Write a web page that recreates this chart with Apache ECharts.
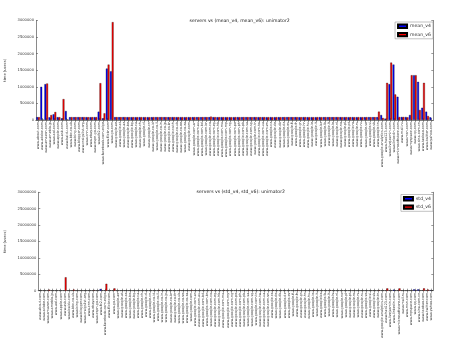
<!DOCTYPE html>
<html><head><meta charset="utf-8">
<script src="https://cdn.jsdelivr.net/npm/echarts@6/dist/echarts.min.js"></script>
<style>html,body{margin:0;padding:0;background:#fff}#c{width:468px;height:361px}</style>
</head><body><div id="c"></div>
<script>
const servers = [
"www.about.com","www.adobe.com","www.amazon.com","www.ameblo.jp","www.aol.com","www.apple.com","www.ask.com","www.baidu.com","www.bbc.co.uk","www.bing.com","www.blogger.com","www.craigslist.org","www.cnn.com","www.ebay.com","www.espn.go.com","www.fc2.com","www.facebook.com.edge","www.flickr.com","www.go.com",
"www.google.ae","www.google.at","www.google.az","www.google.be","www.google.bg","www.google.ca","www.google.ch","www.google.cl","www.google.cn","www.google.co.id","www.google.co.il","www.google.co.in","www.google.co.jp","www.google.co.kr","www.google.co.th","www.google.co.uk","www.google.co.ve","www.google.co.za","www.google.com","www.google.com.ar","www.google.com.au","www.google.com.bd","www.google.com.br","www.google.com.co","www.google.com.eg","www.google.com.hk","www.google.com.mx","www.google.com.my","www.google.com.ng","www.google.com.pe","www.google.com.ph","www.google.com.pk","www.google.com.sa","www.google.com.sg","www.google.com.tr","www.google.com.tw","www.google.com.ua","www.google.com.vn","www.google.cz","www.google.de","www.google.dk","www.google.dz","www.google.es","www.google.fi","www.google.fr","www.google.gr","www.google.hr","www.google.hu","www.google.ie","www.google.it","www.google.kz","www.google.lk","www.google.lt","www.google.lv","www.google.nl","www.google.no","www.google.pl","www.google.pt","www.google.ro","www.google.rs","www.google.ru","www.google.se","www.google.si","www.google.sk","www.google.tn",
"www.google-analytics.com","www.hao123.com","www.livejasmin.com","www.linkedin.com","www.microsoftstore.com","www.mail.ru","www.msn.com","www.myspace.com","www.qq.com","www.sina.com.cn","www.taobao.com","www.twitter.com","www.yahoo.com"
];
const meanV4 = [
85000,1000000,1080000,80000,170000,85000,50000,270000,85000,84000,86000,85000,85000,84000,86000,250000,50000,1550000,1470000,
85000,84000,86000,85000,85000,84000,86000,85000,85000,84000,86000,85000,85000,84000,86000,85000,85000,84000,86000,85000,85000,84000,86000,85000,85000,84000,86000,85000,85000,84000,86000,85000,85000,84000,86000,85000,85000,84000,86000,85000,85000,84000,86000,85000,85000,84000,86000,85000,85000,84000,86000,85000,85000,84000,86000,85000,85000,84000,86000,85000,85000,84000,86000,85000,85000,
150000,40000,1080000,1670000,700000,90000,90000,150000,1350000,1150000,370000,250000,80000
];
const meanV6 = [
85000,15000,1100000,150000,240000,85000,630000,15000,86000,85000,85000,86000,84000,85000,86000,1110000,200000,1670000,2950000,
86000,85000,86000,84000,86000,85000,86000,85000,84000,86000,85000,86000,85000,84000,86000,85000,86000,85000,84000,86000,85000,86000,85000,100000,86000,85000,86000,85000,84000,86000,85000,86000,85000,84000,86000,85000,86000,85000,84000,86000,85000,86000,85000,84000,86000,85000,86000,85000,84000,86000,85000,86000,85000,84000,86000,85000,86000,85000,84000,86000,85000,86000,85000,84000,
250000,60000,1120000,1730000,770000,90000,90000,80000,1350000,1350000,300000,1120000,120000
];
const stdV4 = [
30000,30000,40000,20000,30000,20000,30000,40000,30000,20000,30000,20000,30000,20000,30000,500000,30000,40000,40000,
20000,30000,20000,30000,20000,30000,20000,30000,20000,30000,20000,30000,20000,30000,20000,30000,20000,30000,20000,30000,20000,30000,20000,30000,20000,30000,20000,30000,20000,30000,20000,30000,20000,30000,20000,30000,20000,30000,20000,30000,20000,30000,20000,30000,20000,30000,20000,30000,20000,30000,20000,30000,20000,30000,20000,30000,20000,30000,20000,30000,20000,30000,20000,30000,20000,
60000,40000,60000,300000,60000,40000,40000,60000,400000,400000,100000,60000,150000
];
const stdV6 = [
40000,30000,300000,40000,50000,30000,4080000,40000,300000,40000,40000,40000,40000,200000,40000,60000,2100000,60000,700000,
40000,40000,40000,40000,40000,40000,40000,40000,40000,40000,150000,40000,40000,40000,40000,150000,40000,40000,150000,40000,40000,40000,40000,150000,40000,40000,150000,40000,40000,40000,40000,40000,150000,40000,40000,40000,40000,40000,150000,40000,40000,40000,40000,40000,150000,40000,40000,40000,150000,40000,40000,40000,150000,40000,40000,40000,40000,40000,40000,40000,40000,40000,40000,40000,150000,
60000,700000,60000,60000,700000,40000,40000,40000,60000,60000,700000,300000,60000
];
const meanTicks = {min:0, max:3000000, interval:500000};
const stdTicks = {min:0, max:30000000, interval:5000000};

const FONT = 'DejaVu Sans';
const frame = {show:true, lineStyle:{color:'#8a8a8a', width:1}};
function xa(grid, pos, labels){
  return {type:'category', gridIndex:grid, position:pos, data:servers,
    axisLine:frame,
    axisTick:{show:true, inside:true, length:2, alignWithLabel:true, interval:0, lineStyle:{color:'#555', width:0.6}},
    axisLabel: labels ? {show:true, interval:0, rotate:90, fontSize:3.4, fontFamily:FONT, color:'#333', margin:2} : {show:false},
    splitLine:{show:false}};
}
function ya(grid, pos, t, labels){
  return {type:'value', gridIndex:grid, position:pos, min:t.min, max:t.max, interval:t.interval,
    axisLine:frame,
    axisTick:{show:true, inside:true, length:2, lineStyle:{color:'#555', width:0.6}},
    axisLabel: labels ? {show:true, fontSize:3.7, fontFamily:FONT, color:'#333', margin:2, formatter:(v)=>String(v)} : {show:false},
    name: labels ? 'time (usecs)' : '', nameLocation:'middle', nameGap: 18,
    nameTextStyle:{fontSize:3.7, fontFamily:FONT, color:'#333'},
    splitLine:{show:false}};
}
function bar(name, data, color, xi, yi){
  return {type:'bar', name:name, data:data, xAxisIndex:xi, yAxisIndex:yi,
    barGap:'0%', barCategoryGap:'12%',
    itemStyle:{color:color, borderColor:'#000', borderWidth:0.3}, animation:false};
}
const chart = echarts.init(document.getElementById('c'), null, {renderer:'canvas'});
chart.setOption({
  animation:false,
  backgroundColor:'#fff',
  title:[
    {text:'servers vs (mean_v4, mean_v6): unimator2', left:234.6, textAlign:'center', top:13.5,
     textStyle:{fontSize:4.6, fontWeight:'normal', fontFamily:FONT, color:'#222'}},
    {text:'servers vs (std_v4, std_v6): unimator2', left:235.8, textAlign:'center', top:184.5,
     textStyle:{fontSize:4.6, fontWeight:'normal', fontFamily:FONT, color:'#222'}}
  ],
  legend:[
    {data:['mean_v4','mean_v6'], orient:'vertical', right:35, top:22, itemWidth:9, itemHeight:3.4, itemGap:3,
     padding:[1.5,2,1.5,2], borderColor:'#999', borderWidth:0.6, backgroundColor:'#fff',
     textStyle:{fontSize:4.6, fontFamily:FONT, color:'#333', padding:[0,0,0,-2]}, icon:'rect'},
    {data:['std_v4','std_v6'], orient:'vertical', right:35, top:194.5, itemWidth:9, itemHeight:3.4, itemGap:3,
     padding:[1.5,2,1.5,2], borderColor:'#999', borderWidth:0.6, backgroundColor:'#fff',
     textStyle:{fontSize:4.6, fontFamily:FONT, color:'#333', padding:[0,0,0,-2]}, icon:'rect'}
  ],
  grid:[
    {left:36, top:20.5, width:397.3, height:99.5, show:false, containLabel:false, outerBoundsMode:'none'},
    {left:38.3, top:192.3, width:395, height:98.4, show:false, containLabel:false, outerBoundsMode:'none'}
  ],
  xAxis:[xa(0,'bottom',true), xa(0,'top',false), xa(1,'bottom',true), xa(1,'top',false)],
  yAxis:[ya(0,'left',meanTicks,true), ya(0,'right',meanTicks,false), ya(1,'left',stdTicks,true), ya(1,'right',stdTicks,false)],
  series:[
    bar('mean_v4', meanV4, '#0000ff', 0, 0),
    bar('mean_v6', meanV6, '#ff0000', 0, 0),
    bar('std_v4', stdV4, '#0000ff', 2, 2),
    bar('std_v6', stdV6, '#ff0000', 2, 2)
  ]
});
</script>
</body></html>
